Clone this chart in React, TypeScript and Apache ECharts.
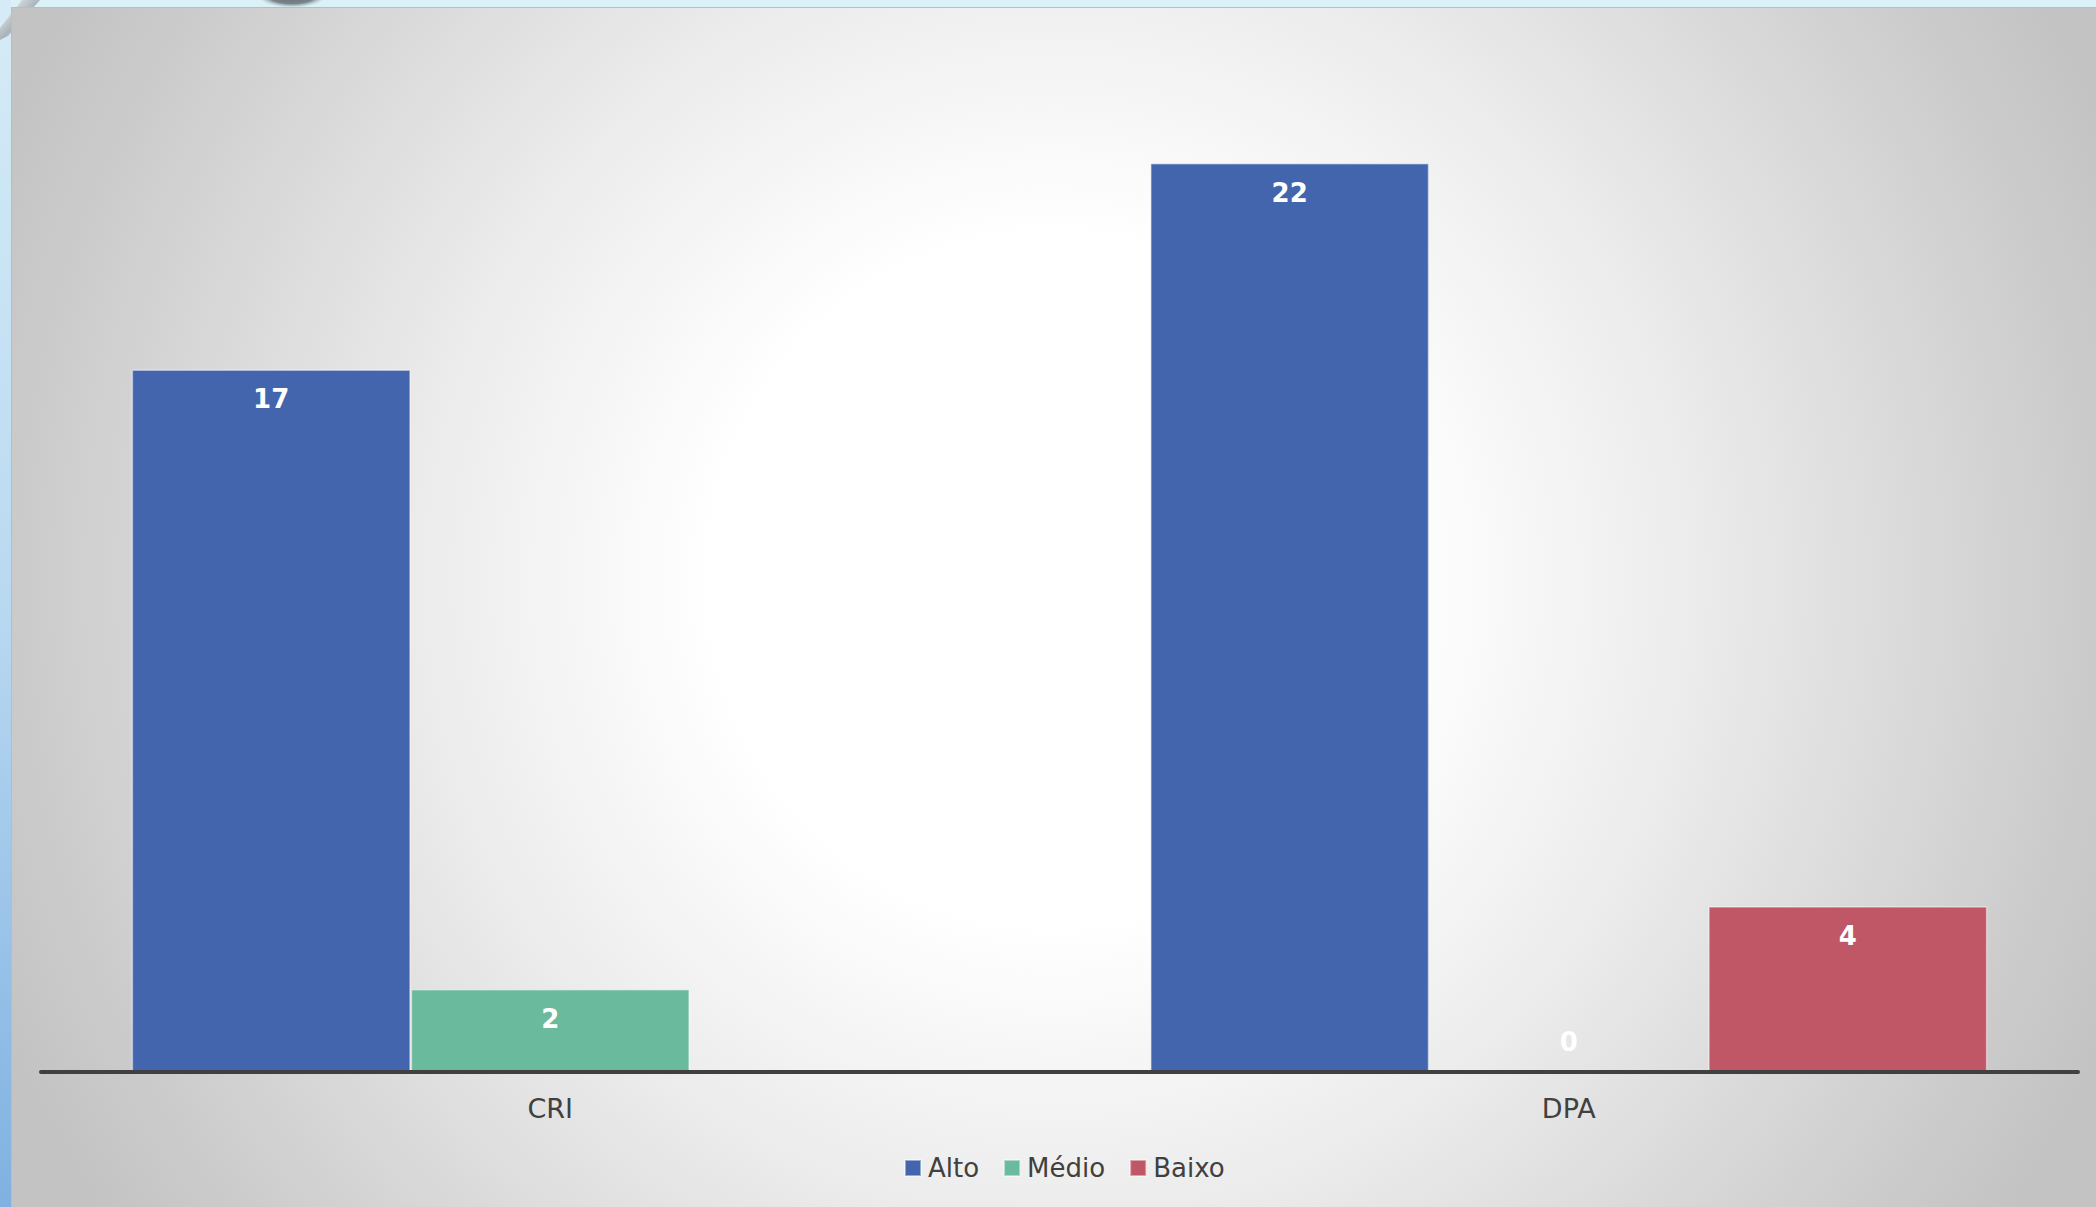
import React, { useEffect, useRef } from "react";
import * as echarts from "echarts";

const categories = ["CRI", "DPA"];
const seriesNames = ["Alto", "Médio", "Baixo"];
const alto: (number | null)[] = [17, 22];
const medio: (number | null)[] = [2, 0];
const baixo: (number | null)[] = [null, 4];
const colors = ["#4365ae", "#6aba9d", "#c05766"];
const yMax = 25;

export default function App() {
  const ref = useRef<HTMLDivElement>(null);
  useEffect(() => {
    document.body.style.margin = "0";
    const chart = echarts.init(ref.current!, undefined, { renderer: "svg" });
    const values = [alto, medio, baixo];
    const font = "'DejaVu Sans', sans-serif";
    const series = seriesNames.map((name, i) => ({
      name,
      type: "bar",
      barGap: "0%",
      barCategoryGap: "17.8%",
      data: values[i].map((v) =>
        v === null
          ? "-"
          : v === 0
          ? { value: 0, label: { position: "top", distance: 16 } }
          : v
      ),
      itemStyle: {
        color: colors[i],
        borderColor: "rgba(255,255,255,0.45)",
        borderWidth: 1.5,
      },
      label: {
        show: true,
        position: "insideTop",
        distance: 17,
        color: "#ffffff",
        fontFamily: font,
        fontWeight: "bold",
        fontSize: 26,
      },
      z: 5,
    }));
    chart.setOption({
      animation: false,
      backgroundColor: "#dcf0f7",
      graphic: [
        {
          type: "rect",
          z: -20,
          silent: true,
          shape: { x: 0, y: 0, width: 11, height: 1207 },
          style: {
            fill: new echarts.graphic.LinearGradient(0, 0, 0, 1, [
              { offset: 0, color: "#d6ecf6" },
              { offset: 0.5, color: "#b9d9f1" },
              { offset: 1, color: "#7fb1e1" },
            ]),
          },
        },
        {
          type: "polygon",
          z: -19,
          silent: true,
          shape: { points: [[22, 0], [40, 0], [8, 36], [0, 40], [0, 28]] },
          style: {
            fill: new echarts.graphic.LinearGradient(0, 0, 1, 1, [
              { offset: 0, color: "#ffffff" },
              { offset: 0.5, color: "#a9b4ba" },
              { offset: 1, color: "#e8eef0" },
            ]),
          },
        },
        {
          type: "ellipse",
          z: -19,
          silent: true,
          shape: { cx: 292, cy: -6, rx: 36, ry: 14 },
          style: {
            fill: new echarts.graphic.RadialGradient(0.5, 0.5, 0.5, [
              { offset: 0, color: "#5d686e" },
              { offset: 0.7, color: "#7a858a" },
              { offset: 1, color: "rgba(180,200,210,0)" },
            ]),
          },
        },
        {
          type: "rect",
          z: -18,
          silent: true,
          shape: { x: 11, y: 7, width: 2085, height: 1200 },
          style: { fill: "#b9bdbf" },
        },
        {
          type: "rect",
          z: -17,
          silent: true,
          shape: { x: 12, y: 8, width: 2084, height: 1199 },
          style: {
            fill: new echarts.graphic.RadialGradient(
              1056,
              580,
              1150,
              [
                { offset: 0, color: "#ffffff" },
                { offset: 0.3, color: "#ffffff" },
                { offset: 0.55, color: "#ececec" },
                { offset: 0.9, color: "#cbcbcb" },
                { offset: 1, color: "#c3c3c3" },
              ],
              true
            ),
          },
        },
      ],
      grid: { left: 41, right: 18, top: 39, bottom: 135.5, containLabel: false },
      legend: {
        data: seriesNames,
        left: 899,
        top: 1150,
        icon: "rect",
        itemWidth: 16,
        itemHeight: 16,
        itemGap: 24,
        textStyle: { color: "#404040", fontSize: 26, fontFamily: font, padding: [0, 0, 0, 2] },
      },
      xAxis: {
        type: "category",
        data: categories,
        axisLine: { show: true, lineStyle: { color: "#404040", width: 4 } },
        axisTick: { show: false },
        axisLabel: { color: "#404040", fontSize: 27, fontFamily: font, margin: 23 },
        z: 10,
      },
      yAxis: {
        type: "value",
        min: 0,
        max: yMax,
        show: false,
        splitLine: { show: false },
      },
      series,
    });
    return () => chart.dispose();
  }, []);
  return (
    <div
      ref={ref}
      style={{ position: "fixed", left: 0, top: 0, width: 2096, height: 1207 }}
    />
  );
}
